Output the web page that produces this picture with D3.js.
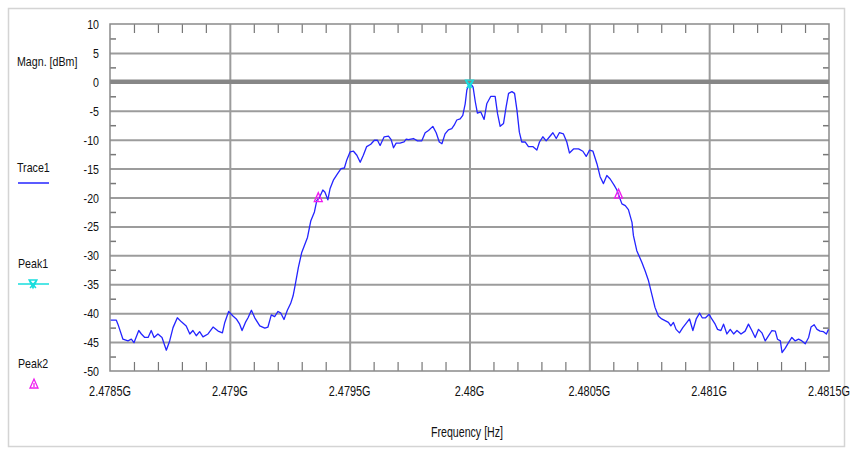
<!DOCTYPE html>
<html><head><meta charset="utf-8">
<script src="https://cdn.jsdelivr.net/npm/d3@7"></script>
<style>
html,body{margin:0;padding:0;background:#fff;}
svg{display:block;font-family:"Liberation Sans",Arial,sans-serif;}
</style></head>
<body>
<svg id="chart" width="852" height="450"></svg>
<script>
// ---------- data ----------
const freqMHz = [2478.503,2478.526,2478.533,2478.554,2478.575,2478.589,2478.600,2478.620,2478.631,2478.645,2478.659,2478.672,2478.684,2478.700,2478.717,2478.735,2478.749,2478.763,2478.781,2478.798,2478.818,2478.833,2478.846,2478.860,2478.874,2478.888,2478.909,2478.930,2478.951,2478.969,2478.979,2478.995,2479.013,2479.027,2479.041,2479.051,2479.065,2479.076,2479.090,2479.104,2479.125,2479.146,2479.159,2479.173,2479.187,2479.201,2479.213,2479.226,2479.240,2479.254,2479.264,2479.272,2479.286,2479.300,2479.314,2479.324,2479.338,2479.353,2479.363,2479.374,2479.388,2479.397,2479.409,2479.418,2479.432,2479.449,2479.464,2479.478,2479.488,2479.502,2479.516,2479.530,2479.544,2479.557,2479.571,2479.588,2479.603,2479.616,2479.627,2479.644,2479.662,2479.673,2479.683,2479.694,2479.710,2479.727,2479.736,2479.745,2479.766,2479.783,2479.801,2479.815,2479.829,2479.847,2479.861,2479.874,2479.885,2479.898,2479.912,2479.926,2479.936,2479.947,2479.961,2479.972,2479.982,2479.989,2479.999,2480.010,2480.015,2480.024,2480.033,2480.047,2480.061,2480.072,2480.089,2480.107,2480.117,2480.128,2480.142,2480.153,2480.163,2480.177,2480.188,2480.198,2480.208,2480.218,2480.232,2480.246,2480.264,2480.281,2480.292,2480.306,2480.320,2480.334,2480.348,2480.362,2480.375,2480.392,2480.406,2480.417,2480.434,2480.455,2480.473,2480.487,2480.501,2480.515,2480.532,2480.545,2480.559,2480.573,2480.587,2480.604,2480.615,2480.626,2480.636,2480.650,2480.663,2480.678,2480.684,2480.698,2480.719,2480.733,2480.747,2480.761,2480.774,2480.788,2480.802,2480.816,2480.830,2480.840,2480.851,2480.862,2480.876,2480.890,2480.907,2480.918,2480.932,2480.946,2480.960,2480.971,2480.985,2481.000,2481.011,2481.025,2481.035,2481.049,2481.060,2481.074,2481.088,2481.102,2481.116,2481.133,2481.150,2481.164,2481.178,2481.192,2481.206,2481.220,2481.234,2481.248,2481.262,2481.276,2481.285,2481.297,2481.304,2481.317,2481.331,2481.345,2481.359,2481.373,2481.387,2481.401,2481.415,2481.425,2481.438,2481.450,2481.463,2481.477,2481.489,2481.498];
const magDbm = [-41.2,-41.2,-41.9,-44.5,-44.8,-44.5,-45.1,-43.0,-43.6,-44.2,-44.2,-43.0,-44.2,-43.6,-44.2,-46.4,-44.8,-42.5,-40.8,-41.5,-42.2,-43.6,-43.0,-43.9,-43.2,-44.1,-43.6,-42.4,-43.1,-43.4,-41.6,-39.7,-40.5,-41.0,-41.9,-43.0,-41.6,-40.8,-39.5,-40.8,-42.2,-42.6,-42.4,-40.3,-40.6,-39.7,-40.0,-41.1,-39.5,-38.3,-37.0,-35.3,-32.1,-29.5,-28.0,-26.9,-24.0,-22.5,-20.5,-20.0,-18.7,-19.1,-20.4,-18.5,-17.0,-15.9,-15.0,-14.9,-13.5,-12.1,-12.0,-12.7,-13.9,-12.7,-11.2,-10.8,-10.1,-10.1,-11.0,-9.5,-9.4,-10.0,-11.4,-10.6,-10.6,-10.4,-9.9,-10.0,-9.8,-10.2,-10.2,-8.8,-8.4,-7.7,-8.8,-10.4,-10.7,-9.0,-8.3,-8.1,-7.5,-6.6,-6.4,-5.8,-3.8,-1.4,-0.3,-0.6,-0.9,-3.4,-5.4,-5.2,-6.5,-3.8,-2.5,-2.5,-5.5,-7.7,-7.2,-4.3,-2.0,-1.7,-2.0,-4.9,-8.7,-10.4,-10.4,-11.2,-11.2,-11.8,-10.4,-9.5,-10.2,-9.5,-8.8,-9.8,-8.8,-9.0,-10.4,-12.3,-11.6,-11.6,-12.0,-12.9,-11.8,-12.0,-14.2,-16.4,-17.6,-16.2,-16.8,-17.9,-18.7,-20.0,-21.1,-21.4,-22.1,-24.3,-26.6,-29.2,-31.2,-32.7,-34.4,-36.8,-39.0,-40.5,-41.0,-41.3,-41.6,-42.2,-41.6,-42.8,-43.4,-42.5,-41.6,-41.0,-43.0,-41.0,-40.0,-40.8,-40.8,-40.2,-41.0,-41.9,-42.8,-43.0,-41.9,-43.6,-42.8,-43.6,-43.0,-43.6,-43.1,-41.9,-43.0,-44.2,-42.8,-43.4,-44.8,-43.9,-43.0,-43.1,-44.5,-44.8,-46.8,-46.1,-45.1,-44.2,-44.8,-44.5,-44.8,-45.3,-44.2,-42.4,-42.0,-42.8,-43.1,-43.2,-43.6,-42.8];
const peak1Freq = [2480.000];
const peak1Mag = [-0.4];
const peak2Freq = [2479.369, 2480.622];
const peak2Mag = [-20.2, -19.6];
const xTickValues = [2478.5, 2479.0, 2479.5, 2480.0, 2480.5, 2481.0, 2481.5];
const xTickLabels = ["2.4785G","2.479G","2.4795G","2.48G","2.4805G","2.481G","2.4815G"];
const yTickValues = [10,5,0,-5,-10,-15,-20,-25,-30,-35,-40,-45,-50];
const yTickLabels = ["10","5","0","-5","-10","-15","-20","-25","-30","-35","-40","-45","-50"];
const legendNames = ["Trace1","Peak1","Peak2"];
const yTitle = "Magn. [dBm]";
const xTitle = "Frequency [Hz]";

// ---------- layout ----------
const L = 110, R = 829, T = 24, B = 371;
const svg = d3.select("#chart");
const x = d3.scaleLinear().domain([2478.5, 2481.5]).range([L, R]);
const y = d3.scaleLinear().domain([-50, 10]).range([B, T]);

// outer panel frame
svg.append("rect").attr("x", 8.5).attr("y", 8.5).attr("width", 836).attr("height", 438)
  .attr("fill", "none").attr("stroke", "#d4d4d4").attr("stroke-width", 1.5);

const gridCol = "#9c9c9c";
// horizontal grid
svg.append("g").attr("transform", `translate(${L},0)`)
  .call(d3.axisLeft(y).tickValues(yTickValues.filter(v => v !== 10 && v !== -50 && v !== 0)).tickSize(-(R - L)).tickFormat(""))
  .call(g => g.select(".domain").remove())
  .call(g => g.selectAll("line").attr("stroke", gridCol).attr("stroke-width", 2));
// vertical grid
svg.append("g").attr("transform", `translate(0,${B})`)
  .call(d3.axisBottom(x).tickValues(xTickValues.slice(1, -1)).tickSize(-(B - T)).tickFormat(""))
  .call(g => g.select(".domain").remove())
  .call(g => g.selectAll("line").attr("stroke", gridCol).attr("stroke-width", 2));
// zero line
svg.append("line").attr("x1", L).attr("x2", R).attr("y1", y(0)).attr("y2", y(0))
  .attr("stroke", "#878787").attr("stroke-width", 4.5);

// minor ticks
const minorX = d3.range(2478.6, 2481.45, 0.1).filter(v => Math.abs(v * 2 - Math.round(v * 2)) > 1e-6);
const minorY = d3.range(-47.5, 10, 5);
svg.append("g").attr("transform", `translate(0,${T})`)
  .call(d3.axisBottom(x).tickValues(minorX).tickSize(9).tickFormat(""))
  .call(g => g.select(".domain").remove())
  .call(g => g.selectAll("line").attr("stroke", "#777").attr("stroke-width", 1.2));
svg.append("g").attr("transform", `translate(0,${B})`)
  .call(d3.axisTop(x).tickValues(minorX).tickSize(9).tickFormat(""))
  .call(g => g.select(".domain").remove())
  .call(g => g.selectAll("line").attr("stroke", "#777").attr("stroke-width", 1.2));
svg.append("g").attr("transform", `translate(${L},0)`)
  .call(d3.axisRight(y).tickValues(minorY).tickSize(6).tickFormat(""))
  .call(g => g.select(".domain").remove())
  .call(g => g.selectAll("line").attr("stroke", "#777").attr("stroke-width", 1.5));
svg.append("g").attr("transform", `translate(${R},0)`)
  .call(d3.axisLeft(y).tickValues(minorY).tickSize(6).tickFormat(""))
  .call(g => g.select(".domain").remove())
  .call(g => g.selectAll("line").attr("stroke", "#777").attr("stroke-width", 1.5));

// plot border
svg.append("rect").attr("x", L).attr("y", T).attr("width", R - L).attr("height", B - T)
  .attr("fill", "none").attr("stroke", "#8a8a8a").attr("stroke-width", 1.5);

// trace
const pts = freqMHz.map((f, i) => [f, magDbm[i]]);
svg.append("path").datum(pts)
  .attr("fill", "none").attr("stroke", "#2424ff").attr("stroke-width", 1.3).attr("stroke-linejoin", "round")
  .attr("d", d3.line().x(d => x(d[0])).y(d => y(d[1])));

// markers
function peak1Marker(g, cx, cy) {
  g.append("path").attr("d", `M${cx-4},${cy-4}L${cx+4},${cy-4}L${cx},${cy+4}Z M${cx-3},${cy+4}L${cx+3},${cy-3} M${cx+3},${cy+4}L${cx-3},${cy-3}`)
    .attr("fill", "none").attr("stroke", "#17dede").attr("stroke-width", 1.3);
}
function peak2Marker(g, cx, cy) {
  g.append("path").attr("d", `M${cx-4},${cy+3}L${cx+4},${cy+3}L${cx},${cy-6}Z M${cx},${cy-2}L${cx},${cy+2}`)
    .attr("fill", "none").attr("stroke", "#f01cf0").attr("stroke-width", 1.3);
}
const mk = svg.append("g");
peak1Freq.forEach((f, i) => peak1Marker(mk, x(f), y(peak1Mag[i])));
peak2Freq.forEach((f, i) => peak2Marker(mk, x(f), y(peak2Mag[i])));

// text helper (condensed look)
function txt(s, tx, ty, anchor, size, sx) {
  svg.append("text").attr("transform", `translate(${tx},${ty}) scale(${sx},1)`)
    .attr("text-anchor", anchor).attr("font-size", size).attr("fill", "#111").text(s);
}
// y tick labels
yTickValues.forEach((v, i) => txt(yTickLabels[i], 99, y(v) + 5, "end", 13, 0.82));
// x tick labels
xTickValues.forEach((v, i) => txt(xTickLabels[i], x(v), 396, "middle", 14, 0.78));
// titles
txt(yTitle, 17, 66, "start", 13, 0.82);
txt(xTitle, 467, 437, "middle", 14, 0.76);

// legend
txt(legendNames[0], 17, 172, "start", 13, 0.82);
svg.append("line").attr("x1", 18).attr("x2", 49).attr("y1", 183).attr("y2", 183).attr("stroke", "#2424ff").attr("stroke-width", 1.5);
txt(legendNames[1], 18, 268, "start", 13, 0.82);
svg.append("line").attr("x1", 18).attr("x2", 49).attr("y1", 284).attr("y2", 284).attr("stroke", "#17dede").attr("stroke-width", 1.5);
peak1Marker(svg, 33, 284);
txt(legendNames[2], 18, 368, "start", 13, 0.82);
peak2Marker(svg, 34, 385);
</script>
</body></html>
